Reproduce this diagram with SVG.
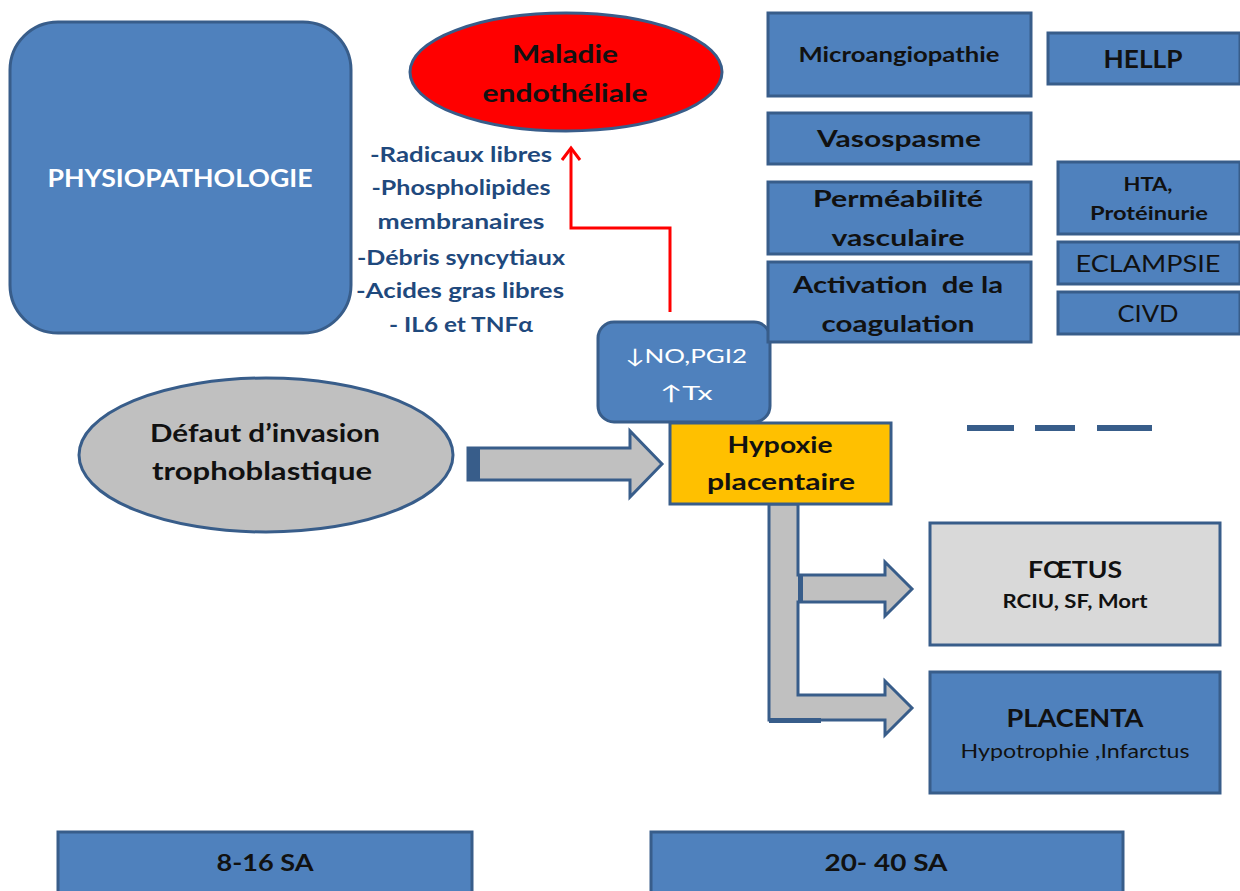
<svg xmlns="http://www.w3.org/2000/svg" width="1240" height="891" viewBox="0 0 1240 891">
<defs>
<style>
.b{fill:#4f81bd;stroke:#385d8a;stroke-width:3}
.t{font-family:Lato,"Open Sans","Liberation Sans",sans-serif;text-anchor:middle}
.bd{font-weight:bold}
.k{fill:#111}
.w{fill:#fff}
.n{fill:#1f497d;font-weight:bold;font-size:21px}
.ga{fill:#c0c0c0;stroke:#385d8a;stroke-width:3;stroke-linejoin:miter}
</style>
</defs>
<rect width="1240" height="891" fill="#fff"/>

<g id="connectors">
<polyline points="670,312 670,228 571,228 571,150" fill="none" stroke="#f00" stroke-width="3"/>
<polyline points="562,160 571,148 580,160" fill="none" stroke="#f00" stroke-width="3"/>
<path class="ga" d="M468,448 H630 V431 L662,464 L630,497 V480 H468 Z"/>
<rect x="468" y="449" width="12" height="30" fill="#385d8a"/>
<path class="ga" d="M769,504 H798 V575 H885 V562 L912,589 L885,616 V602 H798 V695 H885 V681 L912,708 L885,735 V720 H769 Z"/>
<rect x="769" y="718" width="52" height="5" fill="#385d8a"/>
<rect x="798" y="576" width="5" height="25" fill="#385d8a"/>
</g>

<g id="physio"><rect class="b" x="10" y="22" width="341" height="311" rx="48"/>
<text class="t bd w" x="180" y="187" font-size="25" textLength="265" lengthAdjust="spacingAndGlyphs">PHYSIOPATHOLOGIE</text></g>

<g id="maladie"><ellipse cx="566" cy="72" rx="156" ry="59" fill="#f00" stroke="#385d8a" stroke-width="3"/>
<text class="t bd k" x="565" y="63" font-size="25" textLength="106" lengthAdjust="spacingAndGlyphs">Maladie</text>
<text class="t bd k" x="565" y="102" font-size="25" textLength="165" lengthAdjust="spacingAndGlyphs">endothéliale</text></g>

<g id="facteurs">
<text class="t n" x="461" y="162" textLength="182" lengthAdjust="spacingAndGlyphs">-Radicaux libres</text>
<text class="t n" x="461" y="195" textLength="179" lengthAdjust="spacingAndGlyphs">-Phospholipides</text>
<text class="t n" x="461" y="229" textLength="167" lengthAdjust="spacingAndGlyphs">membranaires</text>
<text class="t n" x="461" y="265" textLength="208" lengthAdjust="spacingAndGlyphs">-Débris syncytiaux</text>
<text class="t n" x="460" y="298" textLength="208" lengthAdjust="spacingAndGlyphs">-Acides gras libres</text>
<text class="t n" x="461" y="332" textLength="144" lengthAdjust="spacingAndGlyphs">- IL6 et TNFα</text>
</g>

<g id="no"><rect class="b" x="598" y="322" width="172" height="100" rx="16"/>
<text class="t w" x="686" y="363" font-size="20" textLength="122" lengthAdjust="spacingAndGlyphs">↓NO,PGI2</text>
<text class="t w" x="686" y="400" font-size="20" textLength="53" lengthAdjust="spacingAndGlyphs">↑Tx</text></g>

<g id="micro"><rect class="b" x="768" y="13" width="263" height="83"/>
<text class="t bd k" x="899" y="62" font-size="21" textLength="201" lengthAdjust="spacingAndGlyphs">Microangiopathie</text></g>
<g id="hellp"><rect class="b" x="1048" y="33" width="192" height="51"/>
<text class="t bd k" x="1143" y="68" font-size="25" textLength="79" lengthAdjust="spacingAndGlyphs">HELLP</text></g>
<g id="vaso"><rect class="b" x="768" y="113" width="263" height="51"/>
<text class="t bd k" x="899" y="147" font-size="23" textLength="164" lengthAdjust="spacingAndGlyphs">Vasospasme</text></g>
<g id="perm"><rect class="b" x="768" y="182" width="263" height="72"/>
<text class="t bd k" x="898" y="207" font-size="22" textLength="170" lengthAdjust="spacingAndGlyphs">Perméabilité</text>
<text class="t bd k" x="898" y="246" font-size="22" textLength="133" lengthAdjust="spacingAndGlyphs">vasculaire</text></g>
<g id="activ"><rect class="b" x="768" y="262" width="263" height="80"/>
<text class="t bd k" x="898" y="293" font-size="22" textLength="210" lengthAdjust="spacingAndGlyphs" xml:space="preserve">Activation  de la</text>
<text class="t bd k" x="898" y="332" font-size="22" textLength="153" lengthAdjust="spacingAndGlyphs">coagulation</text></g>
<g id="hta"><rect class="b" x="1058" y="162" width="182" height="72"/>
<text class="t bd k" x="1148" y="191" font-size="19" textLength="49" lengthAdjust="spacingAndGlyphs">HTA,</text>
<text class="t bd k" x="1149" y="220" font-size="19" textLength="118" lengthAdjust="spacingAndGlyphs">Protéinurie</text></g>
<g id="eclampsie"><rect class="b" x="1058" y="242" width="182" height="42"/>
<text class="t k" x="1148" y="272" font-size="23" textLength="145" lengthAdjust="spacingAndGlyphs">ECLAMPSIE</text></g>
<g id="civd"><rect class="b" x="1058" y="292" width="182" height="42"/>
<text class="t k" x="1148" y="322" font-size="23" textLength="61" lengthAdjust="spacingAndGlyphs">CIVD</text></g>

<g id="defaut"><ellipse cx="266" cy="455" rx="187" ry="77" fill="#c0c0c0" stroke="#385d8a" stroke-width="3"/>
<text class="t bd k" x="265" y="442" font-size="25" textLength="230" lengthAdjust="spacingAndGlyphs">Défaut d’invasion</text>
<text class="t bd k" x="262" y="480" font-size="25" textLength="220" lengthAdjust="spacingAndGlyphs">trophoblastique</text></g>

<g id="hypoxie"><rect x="670" y="423" width="221" height="81" fill="#ffc000" stroke="#385d8a" stroke-width="3"/>
<text class="t bd k" x="780" y="453" font-size="22" textLength="105" lengthAdjust="spacingAndGlyphs">Hypoxie</text>
<text class="t bd k" x="781" y="490" font-size="22" textLength="148" lengthAdjust="spacingAndGlyphs">placentaire</text></g>

<g id="dashes" fill="#385d8a">
<rect x="967" y="425" width="47" height="6"/>
<rect x="1035" y="425" width="40" height="6"/>
<rect x="1097" y="425" width="55" height="6"/>
</g>

<g id="foetus"><rect x="930" y="523" width="290" height="122" fill="#d9d9d9" stroke="#385d8a" stroke-width="3"/>
<text class="t bd k" x="1075" y="578" font-size="23" textLength="94" lengthAdjust="spacingAndGlyphs">FŒTUS</text>
<text class="t bd k" x="1075" y="608" font-size="18" textLength="145" lengthAdjust="spacingAndGlyphs">RCIU, SF, Mort</text></g>
<g id="placenta"><rect class="b" x="930" y="672" width="290" height="121"/>
<text class="t bd k" x="1075" y="727" font-size="24" textLength="137" lengthAdjust="spacingAndGlyphs">PLACENTA</text>
<text class="t k" x="1075" y="758" font-size="20" textLength="229" lengthAdjust="spacingAndGlyphs">Hypotrophie ,Infarctus</text></g>

<g id="sa1"><rect class="b" x="58" y="832" width="414" height="70"/>
<text class="t bd k" x="265" y="871" font-size="22" textLength="97" lengthAdjust="spacingAndGlyphs">8-16 SA</text></g>
<g id="sa2"><rect class="b" x="651" y="832" width="472" height="70"/>
<text class="t bd k" x="886" y="871" font-size="22" textLength="123" lengthAdjust="spacingAndGlyphs">20- 40 SA</text></g>
</svg>
